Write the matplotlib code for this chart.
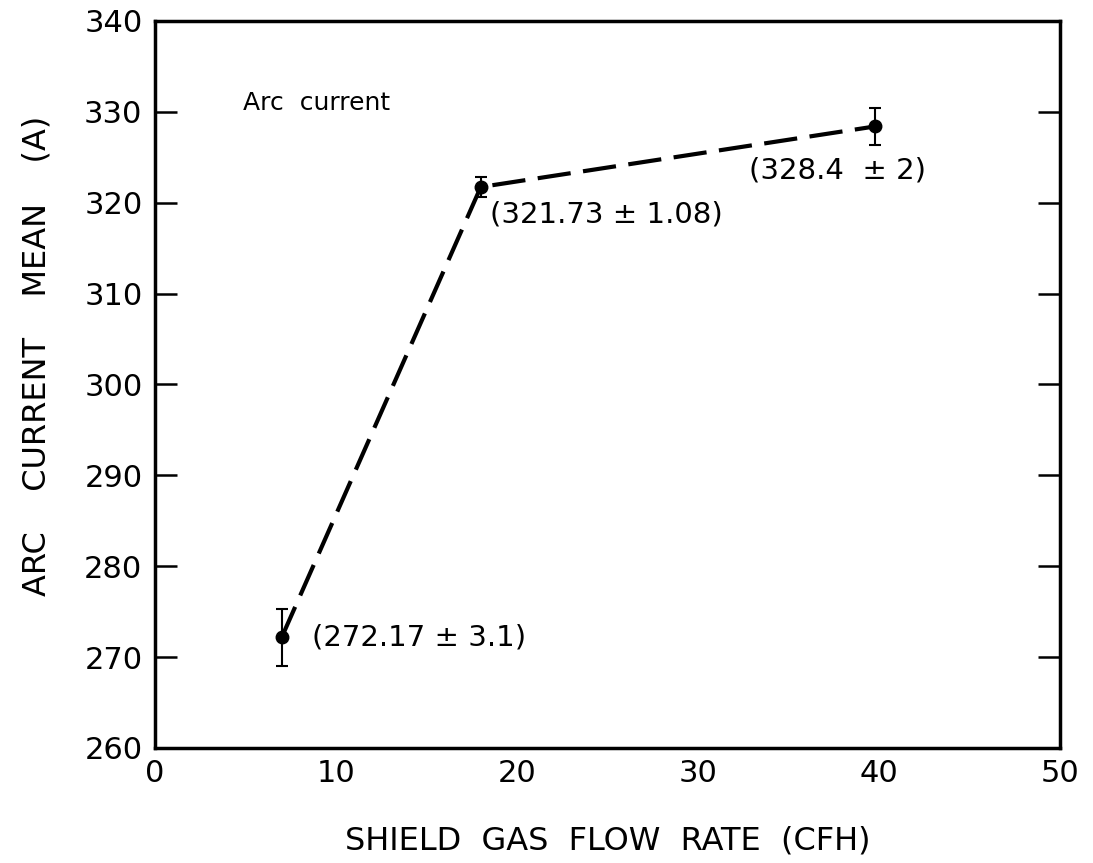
import matplotlib
matplotlib.use("Agg")
import matplotlib.pyplot as plt

# shield gas flow rate (CFH) vs. mean arc current (A)
flow_rate = [7, 18, 39.8]
current_mean = [272.17, 321.73, 328.4]
current_err = [3.1, 1.08, 2]
point_labels = ["(272.17 ± 3.1)", "(321.73 ± 1.08)", "(328.4  ± 2)"]
x_ticks = [0, 10, 20, 30, 40, 50]
y_ticks = [260, 270, 280, 290, 300, 310, 320, 330, 340]

plt.rcParams['font.family'] = ['DejaVu Sans']

fig = plt.figure(figsize=(10.93, 8.63), dpi=100)
ax = fig.add_axes([0.1418, 0.1333, 0.828, 0.8424])

ax.errorbar(flow_rate, current_mean, yerr=current_err, fmt='o', color='black',
            markersize=9, elinewidth=1.5, capsize=4.5, capthick=1.5, zorder=3)
ax.plot(flow_rate, current_mean, color='black', linewidth=3,
        dashes=(8, 3), zorder=2)

# value labels beside each point, offsets in points
offsets = [(22, 0), (6.5, -20), (-91, -32)]
for x, y, txt, off in zip(flow_rate, current_mean, point_labels, offsets):
    ax.annotate(txt, (x, y), xytext=off, textcoords='offset points',
                fontsize=21, va='center', ha='left')

ax.text(0.097, 0.887, "Arc  current", transform=ax.transAxes, fontsize=18,
        va='center')

ax.set_xlim(0, 50)
ax.set_ylim(260, 340)
ax.set_xticks(x_ticks)
ax.set_yticks(y_ticks)
ax.tick_params(axis='y', which='both', direction='in', length=16, width=1.8,
               left=True, right=True, labelsize=22, pad=9)
ax.tick_params(axis='x', length=0, labelsize=22, pad=8)

for s in ax.spines.values():
    s.set_linewidth(2.5)

ax.set_xlabel("SHIELD  GAS  FLOW  RATE  (CFH)", fontsize=23, labelpad=27)
ax.set_ylabel("ARC    CURRENT    MEAN    (A)", fontsize=23)
ax.yaxis.set_label_coords(-0.113, 0.54)

fig.savefig("out.png", dpi=100)
